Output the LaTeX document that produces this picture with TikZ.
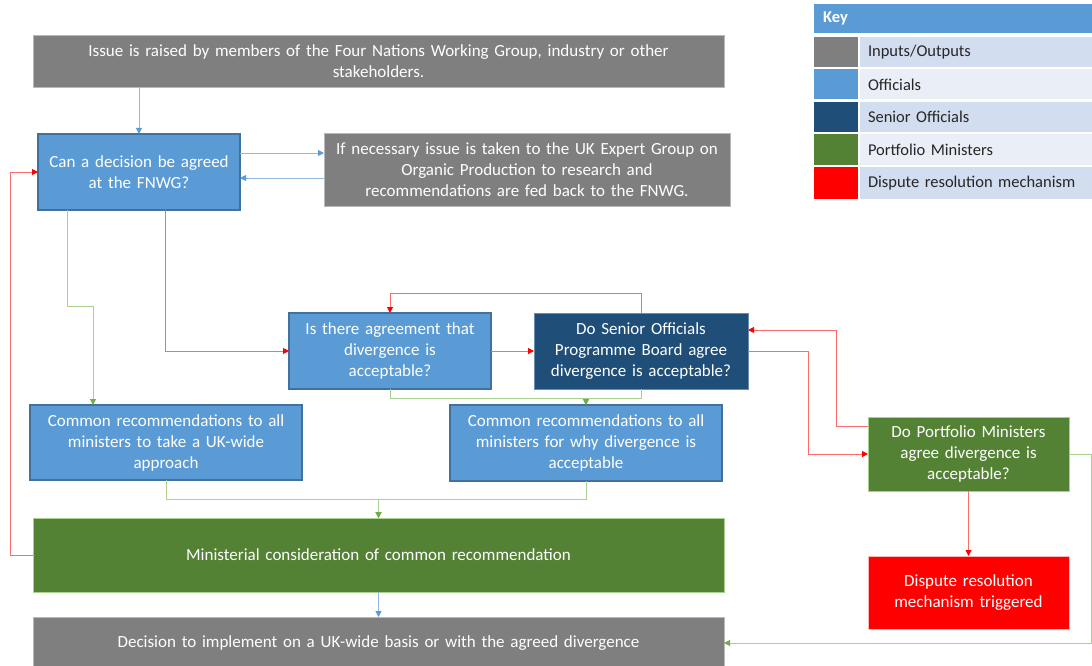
\documentclass[tikz,border=0pt]{standalone}
\usepackage{fontspec}
\setmainfont{Carlito}[WordSpace={1.5}]
\usetikzlibrary{arrows.meta}
\definecolor{cgray}{HTML}{7F7F7F}
\definecolor{cblue}{HTML}{5B9BD5}
\definecolor{cblueb}{HTML}{41719C}
\definecolor{cnavy}{HTML}{1F4E79}
\definecolor{cgreen}{HTML}{548235}
\definecolor{cred}{HTML}{FF0000}
\definecolor{lblue}{HTML}{8FB8E2}
\definecolor{lgreen}{HTML}{A9D18E}
\definecolor{agreen}{HTML}{70AD47}
\definecolor{lred}{HTML}{FF6B6B}
\definecolor{rowa}{HTML}{D2DEEF}
\definecolor{rowb}{HTML}{EAEFF7}
\definecolor{keytxt}{HTML}{262626}
\begin{document}
\begin{tikzpicture}[x=1pt,y=-1pt,
  box/.style={rectangle, inner sep=0pt, outer sep=0pt, text=white, align=center,
    font=\fontsize{17}{21}\selectfont},
  graybox/.style={box, fill=cgray, draw=cgray!55, line width=0.8pt},
  bluebox/.style={box, fill=cblue, draw=cblueb, line width=1.2pt},
  navybox/.style={box, fill=cnavy, draw=cblueb!80, line width=1pt},
  greenbox/.style={box, fill=cgreen, draw=lgreen, line width=0.8pt},
  redbox/.style={box, fill=cred, draw=lred!50, line width=0.8pt},
  bl/.style={draw=lblue, line width=1pt, -{Triangle[length=6pt,width=6pt,color=cblue]}},
  gl/.style={draw=lgreen, line width=1pt, -{Triangle[length=6pt,width=6pt,color=agreen]}},
  rl/.style={draw=lred, line width=1pt, -{Triangle[length=6pt,width=6pt,color=cred]}},
  swatch/.style={rectangle, inner sep=0pt, outer sep=0pt, minimum width=44, anchor=north west},
  keylab/.style={rectangle, inner sep=0pt, inner xsep=8pt, outer sep=0pt, text width=216pt,
    align=left, anchor=north west, text=keytxt, font=\fontsize{16.5}{20}\selectfont},
]
\useasboundingbox (0,0) rectangle (1092,666);

% main boxes
\node[graybox, minimum width=691, minimum height=52] (issue) at (378.5,61)
  {Issue is raised by members of the Four Nations Working Group, industry or other\\stakeholders.};
\node[bluebox, minimum width=202, minimum height=76] (fnwg) at (139,172)
  {Can a decision be agreed\\at the FNWG?};
\node[graybox, minimum width=406, minimum height=73] (ifbox) at (527,169.5)
  {If necessary issue is taken to the UK Expert Group on\\Organic Production to research and\\recommendations are fed back to the FNWG.};
\node[bluebox, minimum width=202, minimum height=76] (agree) at (390,351)
  {Is there agreement that\\divergence is\\acceptable?};
\node[navybox, minimum width=214, minimum height=76] (senior) at (641,351)
  {Do Senior Officials\\Programme Board agree\\divergence is acceptable?};
\node[bluebox, minimum width=272, minimum height=75] (rec1) at (166,442.5)
  {Common recommendations to all\\ministers to take a UK-wide\\approach};
\node[bluebox, minimum width=272, minimum height=76] (rec2) at (586,443)
  {Common recommendations to all\\ministers for why divergence is\\acceptable};
\node[greenbox, minimum width=201, minimum height=74] (port) at (968.5,454)
  {Do Portfolio Ministers\\agree divergence is\\acceptable?};
\node[greenbox, minimum width=691, minimum height=74] (minis) at (378.5,555)
  {Ministerial consideration of common recommendation};
\node[redbox, minimum width=201, minimum height=73] (disp) at (968.5,592.5)
  {Dispute resolution\\mechanism triggered};
\node[graybox, minimum width=691, minimum height=52] (dec) at (378.5,643)
  {Decision to implement on a UK-wide basis or with the agreed divergence};

% connectors
\draw[bl] (fnwg.north |- issue.south) -- (fnwg.north);
\draw[bl] ([yshift=19pt]fnwg.east) -- ([yshift=19pt]fnwg.east -| ifbox.west);
\draw[bl] ([yshift=-6pt]fnwg.east -| ifbox.west) -- ([yshift=-6pt]fnwg.east);
\draw[gl] ([xshift=29pt]fnwg.south west) -- ++(0,96) -| ([xshift=-73pt]rec1.north);
\draw[rl] ([xshift=127pt]fnwg.south west) |- (agree.west);
\draw[rl] (agree.east) -- (senior.west);
\draw[rl] (senior.north) -- ++(0,-20) -| (agree.north);
\draw[gl] (agree.south) -- ++(0,9) -| (rec2.north);
\draw[gl] (senior.south) -- ++(0,9) -| (rec2.north);
\draw[rl] ([yshift=28pt]port.west) -- ++(-32,0) |- ([yshift=21pt]senior.east);
\draw[rl] (senior.east) -- ++(60,0) |- (port.west);
\draw[rl] (port.south) -- (disp.north);
\draw[gl] (port.east) -- ++(22,0) |- (dec.east);
\draw[gl] (rec1.south) -- ++(0,19) -| (minis.north);
\draw[gl] (rec2.south) -- ++(0,18) -| (minis.north);
\draw[bl] (minis.south) -- (dec.north);
\draw[rl] (minis.west) -- ++(-23,0) |- (fnwg.west);

% key
\node[rectangle, fill=cblue, minimum width=278, minimum height=29, inner sep=0pt, inner xsep=9pt,
  text width=260pt, align=left, anchor=north west, text=white,
  font=\fontsize{16.5}{20}\selectfont\bfseries] (keyhead) at (814,4) {Key};
\foreach \n/\t/\h/\c/\r/\l in {1/37/30/cgray/rowa/Inputs\slash Outputs,
    2/69.5/30/cblue/rowb/Officials,
    3/102/30/cnavy/rowa/Senior Officials,
    4/134.5/30/cgreen/rowb/Portfolio Ministers,
    5/167/32/cred/rowa/Dispute resolution mechanism}{
  \node[swatch, fill=\c, minimum height=\h] (sw\n) at (814,\t) {};
  \node[keylab, fill=\r, minimum height=\h] (lab\n) at (860,\t) {\l};
}
\end{tikzpicture}
\end{document}
